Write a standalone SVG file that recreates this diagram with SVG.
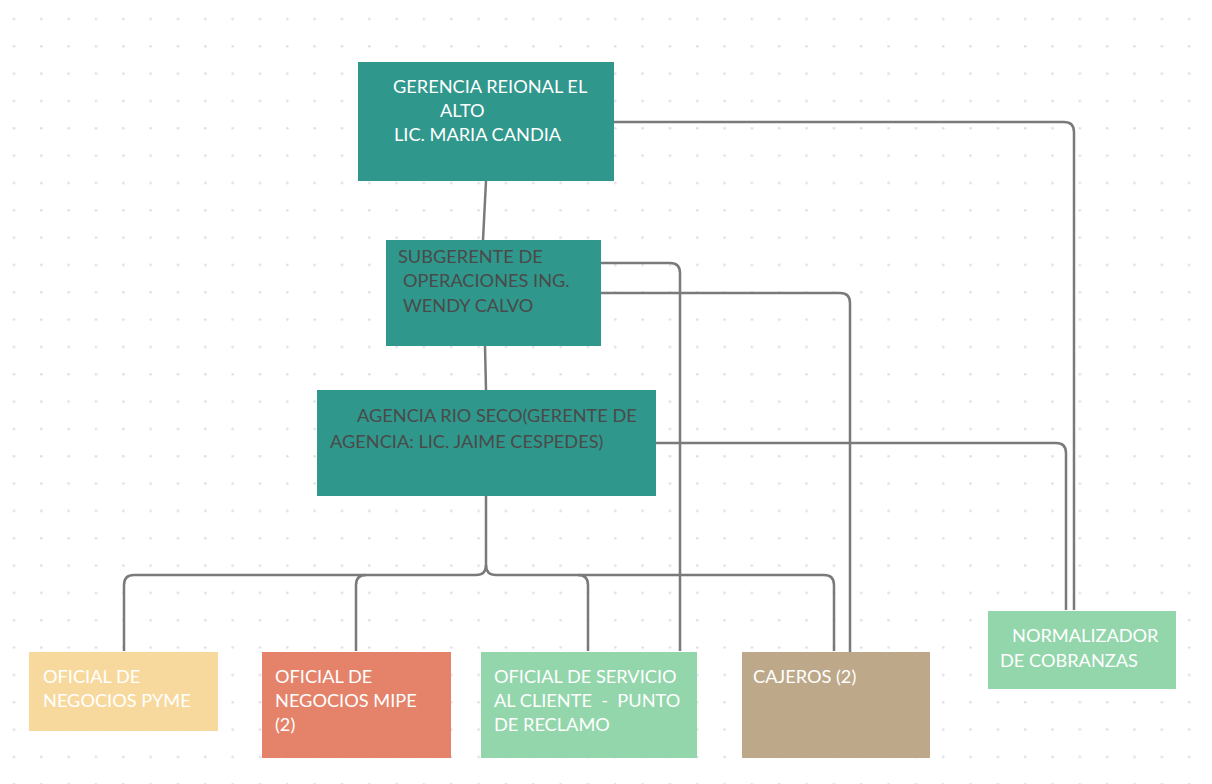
<svg xmlns="http://www.w3.org/2000/svg" width="1212" height="784" viewBox="0 0 1212 784">
  <defs>
    <pattern id="dots" patternUnits="userSpaceOnUse" x="0" y="5" width="27.33" height="27.33">
      <circle cx="14" cy="14" r="1.3" fill="#dedeea"/>
    </pattern>
    <style>
      .box { stroke: none; }
      .teal { fill: #2f978b; }
      .yellow { fill: #f8d99d; }
      .salmon { fill: #e5836a; }
      .green { fill: #93d6ab; }
      .tan { fill: #bda98a; }
      .lbl { font-family: Lato, "Liberation Sans", sans-serif; font-size: 18.2px; }
      .light { fill: #ffffff; }
      .dark { fill: #4a4a4a; }
      .wire { fill: none; stroke: #7a7a7a; stroke-width: 2.5; stroke-linejoin: round; }
    </style>
  </defs>

  <rect width="1212" height="784" fill="#ffffff"/>
  <rect width="1212" height="784" fill="url(#dots)"/>

  <!-- connectors -->
  <g id="connectors">
    <path class="wire" d="M486,181 L483,240"/>
    <path class="wire" d="M485,346 L486,390"/>
    <!-- agency to the four front-line roles -->
    <path class="wire" d="M486,496 V565 Q486,575 476,575 H134 Q124,575 124,585 V651"/>
    <path class="wire" d="M486,565 Q486,575 496,575 H824 Q834,575 834,585 V651"/>
    <path class="wire" d="M366,575 Q356,575 356,585 V651"/>
    <path class="wire" d="M578,575 Q588,575 588,585 V651"/>
    <!-- management lines to the right-hand side -->
    <path class="wire" d="M614,122 H1064 Q1074,122 1074,132 V610"/>
    <path class="wire" d="M601,263 H670 Q680,263 680,273 V651"/>
    <path class="wire" d="M601,293 H840 Q850,293 850,303 V662"/>
    <path class="wire" d="M656,443 H1056 Q1066,443 1066,453 V610"/>
  </g>

  <g id="gerencia">
    <rect class="box teal" x="358" y="62" width="256" height="119"/>
    <text class="lbl light" x="393" y="93">GERENCIA REIONAL EL</text>
    <text class="lbl light" x="440" y="117">ALTO</text>
    <text class="lbl light" x="394" y="141">LIC. MARIA CANDIA</text>
  </g>

  <g id="subgerente">
    <rect class="box teal" x="386" y="240" width="215" height="106"/>
    <text class="lbl dark" x="398" y="263">SUBGERENTE DE</text>
    <text class="lbl dark" x="403" y="287">OPERACIONES ING.</text>
    <text class="lbl dark" x="403" y="312">WENDY CALVO</text>
  </g>

  <g id="agencia">
    <rect class="box teal" x="317" y="390" width="339" height="106"/>
    <text class="lbl dark" x="357" y="422">AGENCIA RIO SECO(GERENTE DE</text>
    <text class="lbl dark" x="330" y="448">AGENCIA: LIC. JAIME CESPEDES)</text>
  </g>

  <g id="oficial-pyme">
    <rect class="box yellow" x="29" y="652" width="189" height="79"/>
    <text class="lbl light" x="43" y="683">OFICIAL DE</text>
    <text class="lbl light" x="43" y="707">NEGOCIOS PYME</text>
  </g>

  <g id="oficial-mipe">
    <rect class="box salmon" x="262" y="652" width="189" height="106"/>
    <text class="lbl light" x="275" y="683">OFICIAL DE</text>
    <text class="lbl light" x="275" y="707">NEGOCIOS MIPE</text>
    <text class="lbl light" x="275" y="731">(2)</text>
  </g>

  <g id="oficial-servicio">
    <rect class="box green" x="481" y="652" width="216" height="106"/>
    <text class="lbl light" x="494" y="683">OFICIAL DE SERVICIO</text>
    <text class="lbl light" x="494" y="707" xml:space="preserve">AL CLIENTE  -  PUNTO</text>
    <text class="lbl light" x="494" y="731">DE RECLAMO</text>
  </g>

  <g id="cajeros">
    <rect class="box tan" x="742" y="652" width="188" height="106"/>
    <text class="lbl light" x="753" y="683">CAJEROS (2)</text>
  </g>

  <g id="normalizador">
    <rect class="box green" x="988" y="611" width="188" height="78"/>
    <text class="lbl light" x="1012" y="642">NORMALIZADOR</text>
    <text class="lbl light" x="1000" y="667">DE COBRANZAS</text>
  </g>
</svg>
